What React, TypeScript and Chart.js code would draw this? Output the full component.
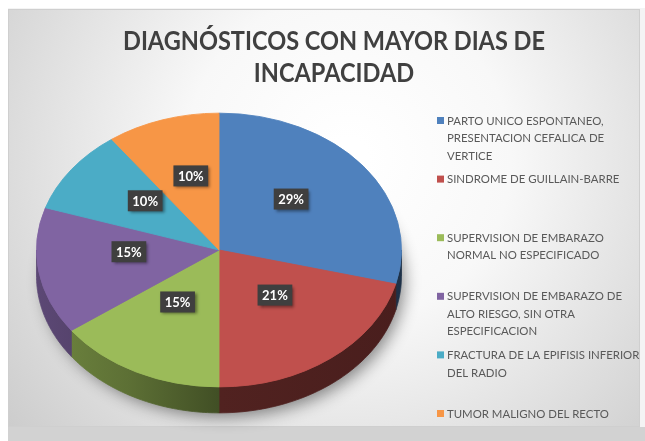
import { useEffect, useRef } from "react";
import { Chart, registerables } from "chart.js";
Chart.register(...registerables);

const titleLines = ["DIAGNÓSTICOS CON MAYOR DIAS DE", "INCAPACIDAD"];
const legendLines = [
  ["PARTO UNICO ESPONTANEO,", "PRESENTACION CEFALICA DE", "VERTICE"],
  ["SINDROME DE GUILLAIN-BARRE"],
  ["SUPERVISION DE EMBARAZO", "NORMAL NO ESPECIFICADO"],
  ["SUPERVISION DE EMBARAZO DE", "ALTO RIESGO, SIN OTRA", "ESPECIFICACION"],
  ["FRACTURA DE LA EPIFISIS INFERIOR", "DEL RADIO"],
  ["TUMOR MALIGNO DEL RECTO"],
];
const categories = legendLines.map((l) => l.join(" "));
const values = [29, 21, 15, 15, 10, 10];
const colors = ["#4f81bd", "#c0504d", "#9bbb59", "#8064a2", "#4bacc6", "#f79646"];

const W = 637;
const H = 433;
const FRAME_H = 419;
const PIE_CY = 242;
const TILT = 0.75;
const DEPTH = 26;
const LABEL_DY = -9;
const TITLE_W = 422;
const FONT = "Lato, 'Open Sans', sans-serif";

function shade(hex: string, f: number) {
  const n = parseInt(hex.slice(1), 16);
  const r = Math.round(((n >> 16) & 255) * f);
  const g = Math.round(((n >> 8) & 255) * f);
  const b = Math.round((n & 255) * f);
  return `rgb(${r},${g},${b})`;
}

const pie3d = {
  id: "pie3d",
  beforeDraw(chart: any) {
    const ctx = chart.ctx as CanvasRenderingContext2D;
    ctx.save();
    ctx.fillStyle = "#d2d2d2";
    ctx.fillRect(0, 0, W, H);
    ctx.fillStyle = "#f4f4f4";
    ctx.fillRect(0, 0, W, 1);
    ctx.fillRect(632, 0, W - 632, FRAME_H);
    const g = ctx.createRadialGradient(340, 150, 20, 340, 150, 430);
    g.addColorStop(0, "#ffffff");
    g.addColorStop(0.35, "#f8f8f8");
    g.addColorStop(1, "#cdcdcd");
    ctx.fillStyle = g;
    ctx.fillRect(0, 1, 632, FRAME_H - 1);
    ctx.strokeStyle = "#cfcfcf";
    ctx.lineWidth = 1;
    ctx.strokeRect(0.5, 1.5, 631, FRAME_H - 2);
    ctx.restore();
  },
  beforeDatasetsDraw(chart: any) {
    const ctx = chart.ctx as CanvasRenderingContext2D;
    const arcs = chart.getDatasetMeta(0).data as any[];
    const cx = arcs[0].x;
    const cy = arcs[0].y;
    const R = arcs[0].outerRadius;
    const ry = R * TILT;
    // drop shadow
    ctx.save();
    ctx.shadowColor = "rgba(0,0,0,0.45)";
    ctx.shadowBlur = 16;
    ctx.shadowOffsetX = 5;
    ctx.shadowOffsetY = 6;
    ctx.beginPath();
    ctx.ellipse(cx, PIE_CY + DEPTH, R - 2, ry - 2, 0, 0, Math.PI * 2);
    ctx.fillStyle = "#777";
    ctx.fill();
    ctx.restore();
    // side walls
    arcs.forEach((arc, i) => {
      const a = Math.max(arc.startAngle, 0);
      const b = Math.min(arc.endAngle, Math.PI);
      if (b <= a) return;
      const grad = ctx.createLinearGradient(cx - R, 0, cx + R, 0);
      grad.addColorStop(0, shade(colors[i], 0.72));
      grad.addColorStop(0.25, shade(colors[i], 0.6));
      grad.addColorStop(0.5, shade(colors[i], 0.42));
      grad.addColorStop(1, shade(colors[i], 0.38));
      ctx.beginPath();
      const steps = 60;
      for (let s = 0; s <= steps; s++) {
        const t = a + ((b - a) * s) / steps;
        const x = cx + R * Math.cos(t);
        const y = PIE_CY + ry * Math.sin(t);
        if (s === 0) ctx.moveTo(x, y);
        else ctx.lineTo(x, y);
      }
      for (let s = steps; s >= 0; s--) {
        const t = a + ((b - a) * s) / steps;
        ctx.lineTo(cx + R * Math.cos(t), PIE_CY + ry * Math.sin(t) + DEPTH);
      }
      ctx.closePath();
      ctx.fillStyle = grad;
      ctx.fill();
      ctx.strokeStyle = grad;
      ctx.lineWidth = 0.8;
      ctx.stroke();
    });
    ctx.save();
    ctx.translate(0, PIE_CY);
    ctx.scale(1, TILT);
    ctx.translate(0, -cy);
  },
  afterDatasetsDraw(chart: any) {
    const ctx = chart.ctx as CanvasRenderingContext2D;
    ctx.restore();
    const arcs = chart.getDatasetMeta(0).data as any[];
    const total = values.reduce((s, v) => s + v, 0);
    // data labels
    arcs.forEach((arc, i) => {
      const mid = (arc.startAngle + arc.endAngle) / 2;
      const r = arc.outerRadius * 0.5;
      const x = arc.x + r * Math.cos(mid);
      const y = PIE_CY + r * Math.sin(mid) * TILT + LABEL_DY;
      const txt = Math.round((values[i] / total) * 100) + "%";
      ctx.save();
      ctx.font = `bold 13px ${FONT}`;
      const tw = ctx.measureText(txt).width;
      const bw = tw + 9;
      const bh = 21;
      ctx.shadowColor = "rgba(0,0,0,0.45)";
      ctx.shadowBlur = 3;
      ctx.shadowOffsetX = 2;
      ctx.shadowOffsetY = 2;
      ctx.fillStyle = "#3f3f3f";
      ctx.fillRect(x - bw / 2, y - bh / 2, bw, bh);
      ctx.shadowColor = "transparent";
      ctx.fillStyle = "#ffffff";
      ctx.textAlign = "center";
      ctx.textBaseline = "middle";
      ctx.fillText(txt, x, y + 1);
      ctx.restore();
    });
    // title
    ctx.save();
    ctx.fillStyle = "#404040";
    ctx.font = `bold 26px ${FONT}`;
    ctx.textAlign = "center";
    ctx.textBaseline = "middle";
    const sx = Math.min(1, TITLE_W / ctx.measureText(titleLines[0]).width);
    ctx.translate(326, 0);
    ctx.scale(sx, 1);
    titleLines.forEach((t, i) => ctx.fillText(t, 0, 34 + i * 32));
    ctx.restore();
    // legend
    ctx.save();
    ctx.font = `11.4px ${FONT}`;
    ctx.textBaseline = "middle";
    legendLines.forEach((lines, i) => {
      const y0 = 113 + i * 58.6;
      ctx.fillStyle = colors[i];
      ctx.fillRect(429, y0 - 4, 7, 7);
      ctx.fillStyle = "#595959";
      lines.forEach((l, j) => ctx.fillText(l, 439, y0 + j * 17.5));
    });
    ctx.restore();
  },
};

export default function App() {
  const ref = useRef<HTMLCanvasElement>(null);
  useEffect(() => {
    if (!ref.current) return;
    const chart = new Chart(ref.current, {
      type: "pie",
      data: {
        labels: categories,
        datasets: [
          {
            data: values,
            backgroundColor: colors,
            borderColor: colors,
            borderWidth: 1,
            clip: false,
          } as any,
        ],
      },
      options: {
        responsive: false,
        animation: false,
        events: [],
        layout: { padding: { left: 28, right: W - 394, top: 20, bottom: H - 386 } },
        plugins: {
          legend: { display: false },
          title: { display: false },
          tooltip: { enabled: false },
        },
      },
      plugins: [pie3d],
    });
    return () => chart.destroy();
  }, []);
  return (
    <canvas
      ref={ref}
      width={W}
      height={H}
      style={{ display: "block", position: "absolute", left: 8, top: 8, width: W, height: H }}
    />
  );
}
